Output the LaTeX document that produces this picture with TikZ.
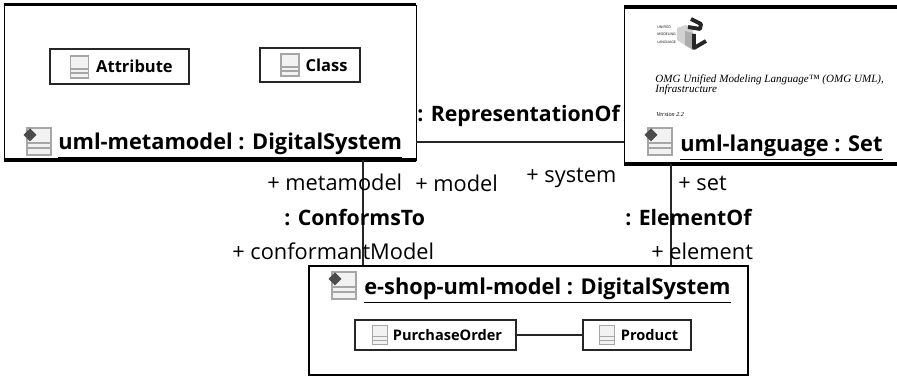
\documentclass[tikz,border=0pt]{standalone}
\usepackage{fontspec}
\setmainfont{Open Sans}
\newfontfamily\specfont{Liberation Serif}
\usetikzlibrary{positioning}
\tikzset{
	px/.style={x=0.02cm,y=-0.02cm},
	objbox/.style={draw=black,fill=white,line width=0.5pt,inner sep=0pt},
	classbox/.style={draw=black!85,fill=white,line width=0.8pt,inner sep=0pt,font=\fontsize{9.4}{11}\selectfont\bfseries},
	smallclass/.style={classbox,font=\fontsize{8.3}{10}\selectfont\bfseries},
	objtitle/.style={font=\fontsize{12.4}{15}\selectfont\bfseries,inner sep=0pt},
	endlabel/.style={font=\fontsize{12.4}{15}\selectfont,inner sep=0pt},
	linklabel/.style={font=\fontsize{12.1}{15}\selectfont\bfseries,inner sep=0pt},
	conn/.style={line width=0.9pt,black!85},
	classicon/.pic={
		\draw[gray!70,fill=gray!10,line width=0.6pt] (-9,-11) rectangle (9,11);
		\draw[gray!70,line width=0.6pt] (-9,2)--(9,2);
		\draw[gray!70,line width=0.6pt] (-9,6)--(9,6);
	},
	objicon/.pic={
		\draw[gray!70,fill=gray!10,line width=0.7pt] (-9,-14) rectangle (15,13);
		\draw[gray!70,line width=0.7pt] (-9,1)--(15,1);
		\draw[gray!70,line width=0.7pt] (-9,6)--(15,6);
		\fill[gray!60!black] (-6,-13.5)--(0.5,-7)--(-6,-0.5)--(-12.5,-7)--cycle;
	},
}
\begin{document}
\begin{tikzpicture}[px]
	\useasboundingbox (0,0) rectangle (897,377);
	%system boxes
	\node[objbox,minimum width=8.24cm,minimum height=3.1cm] (metamodel) at (210,82.5) {};
	\node[objbox,minimum width=5.46cm,minimum height=3.14cm] (language) at (760.5,85.5) {};
	\node[objbox,line width=1pt,minimum width=8.78cm,minimum height=2.18cm] (shop) at (528.5,320.5) {};
	%heavy edges
	\draw[line width=2.2pt] (metamodel.north west)--(metamodel.north east);
	\draw[line width=2.2pt] (metamodel.south west)--(metamodel.south east);
	\draw[line width=2.2pt] (language.north west)--(language.north east);
	\draw[line width=2.2pt] (language.south west)--(language.south east);
	
	%classes
	\node[classbox,minimum width=2.78cm,minimum height=0.7cm] (attribute) at (119.5,66.5) {\hspace{0.6cm}Attribute};
	\node[classbox,minimum width=2cm,minimum height=0.68cm] (class) at (310,65) {\hspace{0.66cm}Class};
	\node[smallclass,minimum width=3.22cm,minimum height=0.6cm] (order) at (435.5,335) {\hspace{0.48cm}PurchaseOrder};
	\node[smallclass,minimum width=2.16cm,minimum height=0.6cm] (product) at (637,335) {\hspace{0.5cm}Product};
	\draw[conn] (order)--(product);
	\pic at (79.5,67) {classicon};
	\pic at (290,65) {classicon};
	\pic[scale=0.85] at (380,335) {classicon};
	\pic[scale=0.85] at (607,335) {classicon};
	
	%titles
	\node[objtitle,anchor=base west] (metatitle) at (58,150) {\underline{uml-metamodel : DigitalSystem}};
	\node[objtitle,anchor=base west] (langtitle) at (680,152) {\underline{uml-language : Set}};
	\node[objtitle,anchor=base west] (shoptitle) at (364,295) {\underline{e-shop-uml-model : DigitalSystem}};
	\pic at (36,142) {objicon};
	\pic at (657,142) {objicon};
	\pic at (341,286) {objicon};
	
	%document page
	\node[anchor=base west,inner sep=0pt,font=\specfont\itshape\fontsize{6.3}{7}\selectfont] (spec) at (655,83) {OMG Unified Modeling Language\texttrademark{} (OMG UML),};
	\node[anchor=base west,inner sep=0pt,font=\specfont\itshape\fontsize{6.3}{7}\selectfont] (infra) at (655,93) {Infrastructure};
	\node[anchor=base west,inner sep=0pt,font=\specfont\itshape\fontsize{3.5}{4}\selectfont] (version) at (656,117) {Version 2.2};
	%logo
	\foreach \y/\w in {27/UNIFIED,34/MODELING,42/LANGUAGE}
	{\node[anchor=west,inner sep=0pt,font=\fontsize{2}{2}\selectfont] (logo\w) at (657,\y) {\w};}
	\fill[gray!35] (677,28)--(686,25)--(693,30)--(693,50)--(677,40)--cycle;
	\fill[gray!65] (685,31)--(693,33)--(693,50)--(685,45)--cycle;
	\draw[line width=2.2pt,black!85,line join=round] (691,19)--(701,24)--(700,29)--(688,27);
	\draw[line width=2.2pt,black!85,line join=round] (694,34)--(694,48)--(706,41);
	
	%connectors
	\coordinate (repy) at (520,142);
	\coordinate (cfx) at (363,220);
	\coordinate (elx) at (671,220);
	\draw[conn] (repy -| metamodel.east)--(repy -| language.west);
	\draw[conn] (metamodel.south -| cfx)--(shop.north -| cfx);
	\draw[conn] (language.south -| elx)--(shop.north -| elx);
	
	%labels
	\node[linklabel,anchor=base west] (repof) at (417,122) {: RepresentationOf};
	\node[linklabel,anchor=base west] (conforms) at (284,226) {: ConformsTo};
	\node[linklabel,anchor=base west] (elementof) at (625,226) {: ElementOf};
	\node[endlabel,anchor=base west] (metaend) at (267,191) {+ metamodel};
	\node[endlabel,anchor=base west] (modelend) at (415,192) {+ model};
	\node[endlabel,anchor=base west] (systemend) at (526,183) {+ system};
	\node[endlabel,anchor=base west] (setend) at (678,191) {+ set};
	\node[endlabel,anchor=base west] (confend) at (232,260) {+ conformantModel};
	\node[endlabel,anchor=base west] (elemend) at (651,260) {+ element};
\end{tikzpicture}
\end{document}
